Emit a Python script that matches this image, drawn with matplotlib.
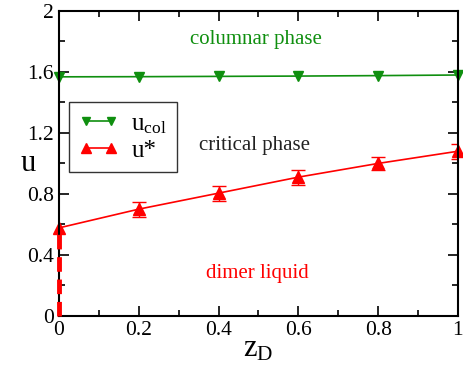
import matplotlib

matplotlib.use("Agg")
import matplotlib.pyplot as plt
from matplotlib.ticker import MultipleLocator

plt.rcParams["font.family"] = ["Liberation Serif", "DejaVu Serif"]
plt.rcParams["mathtext.fontset"] = "custom"
plt.rcParams["mathtext.rm"] = "Liberation Serif"
plt.rcParams["mathtext.it"] = "Liberation Serif"

# z_D values and the two transition lines
z_d = [0.0, 0.2, 0.4, 0.6, 0.8, 1.0]
u_col = [1.568, 1.569, 1.571, 1.573, 1.576, 1.580]
u_star = [0.577, 0.700, 0.805, 0.910, 1.000, 1.080]
u_star_err = [0.0, 0.05, 0.05, 0.05, 0.045, 0.05]

# dimer-liquid boundary along z_D = 0
edge_z = [0.0, 0.0]
edge_u = [0.0, 0.577]

fig = plt.figure(figsize=(4.64, 3.66), dpi=100)
ax = fig.add_axes([0.127, 0.137, 0.86, 0.833])

green = "#0f8f0f"
h_col, = ax.plot(z_d, u_col, color=green, lw=1.2, marker="v", ms=7,
                 label=r"u$_{\rm col}$", clip_on=False)
h_star, = ax.plot(z_d, u_star, color="red", lw=1.2, marker="^", ms=8,
                  label="u*", clip_on=False)
ax.errorbar(z_d[1:], u_star[1:], yerr=u_star_err[1:], fmt="none", ecolor="red",
            capsize=5, capthick=1, elinewidth=1)
ax.plot(edge_z, edge_u, color="red", lw=3.5, ls=(0, (3, 1.6)), zorder=3, clip_on=False)

ax.text(0.494, 1.81, "columnar phase", color=green, fontsize=15, ha="center", va="center")
ax.text(0.49, 1.12, "critical phase", color="#222222", fontsize=15, ha="center", va="center")
ax.text(0.497, 0.28, "dimer liquid", color="red", fontsize=15, ha="center", va="center")

ax.set_xlim(0, 1)
ax.set_ylim(0, 2)
ax.xaxis.set_minor_locator(MultipleLocator(0.1))
ax.yaxis.set_minor_locator(MultipleLocator(0.2))
ax.set_xticks([0, 0.2, 0.4, 0.6, 0.8, 1.0], ["0", "0.2", "0.4", "0.6", "0.8", "1"])
ax.set_yticks([0, 0.4, 0.8, 1.2, 1.6, 2.0], ["0", "0.4", "0.8", "1.2", "1.6", "2"])
ax.tick_params(which="both", direction="in", top=True, right=True, labelsize=15.5, width=1.2)
ax.tick_params(which="major", length=7)
ax.tick_params(which="minor", length=4)
for s in ax.spines.values():
    s.set_linewidth(1.5)

ax.set_xlabel(r"z$_{\rm D}$", fontsize=22, labelpad=-4)
ax.set_ylabel("u", fontsize=22, rotation=0, va="center")
ax.yaxis.set_label_coords(-0.078, 0.5)

leg = ax.legend(handles=[h_col, h_star], loc="upper left", bbox_to_anchor=(0.025, 0.70),
                borderaxespad=0, fontsize=18, numpoints=2, frameon=True, fancybox=False,
                edgecolor="black", handlelength=1.6, handletextpad=0.5, markerscale=0.85,
                borderpad=0.4, labelspacing=0.15)
leg.get_frame().set_linewidth(1.0)

fig.savefig("out.png", dpi=100)
